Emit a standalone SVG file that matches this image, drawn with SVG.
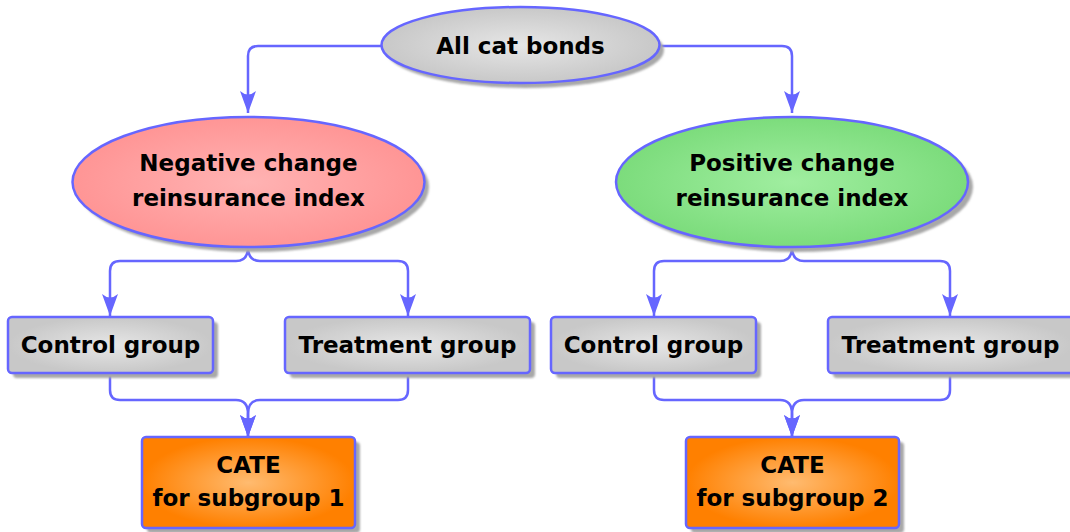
<svg xmlns="http://www.w3.org/2000/svg" width="1070" height="532" viewBox="0 0 1070 532">
<style>
.t{font-family:"DejaVu Sans","Liberation Sans",sans-serif;font-weight:bold;font-size:23px;fill:#000;text-anchor:middle}
.b{stroke:#6666ff;stroke-width:2.5;}
.sh{fill:#a8a8a8;filter:url(#bl)}
.c{fill:none;stroke:#6666ff;stroke-width:2.5;marker-end:url(#ar)}
</style>
<defs>
<filter id="bl" x="-10%" y="-10%" width="120%" height="120%"><feGaussianBlur stdDeviation="1"/></filter>
<radialGradient id="gg"><stop offset="0" stop-color="#e6e6e6"/><stop offset="1" stop-color="#c8c8c8"/></radialGradient>
<radialGradient id="gr"><stop offset="0" stop-color="#ffb3b3"/><stop offset="1" stop-color="#ff9595"/></radialGradient>
<radialGradient id="gn"><stop offset="0" stop-color="#a0eea0"/><stop offset="1" stop-color="#7cdc7c"/></radialGradient>
<radialGradient id="go"><stop offset="0" stop-color="#ffbb70"/><stop offset="1" stop-color="#ff8000"/></radialGradient>
<marker id="ar" markerWidth="24" markerHeight="18" refX="22" refY="9" orient="auto" markerUnits="userSpaceOnUse">
<path d="M22,9 L0,1 Q7,9 0,17 Z" fill="#6666ff"/>
</marker>
</defs>
<g id="connectors">
<path class="c" d="M382,46 L258,46 Q248,46 248,56 L248,113"/>
<path class="c" d="M659,46 L782,46 Q792,46 792,56 L792,113"/>
<path class="c" d="M248,247 C248,256 244,261 236,261 L120,261 Q110,261 110,271 L110,316"/>
<path class="c" d="M248,247 C248,256 252,261 260,261 L398,261 Q408,261 408,271 L408,316"/>
<path class="c" d="M792,247 C792,256 788,261 780,261 L664,261 Q654,261 654,271 L654,316"/>
<path class="c" d="M792,247 C792,256 796,261 804,261 L940,261 Q950,261 950,271 L950,316"/>
<path class="c" d="M110,373 L110,390 Q110,400 120,400 L236,400 C244,400 248,405 248,414 L248,437"/>
<path class="c" d="M408,373 L408,390 Q408,400 398,400 L260,400 C252,400 248,405 248,414 L248,437"/>
<path class="c" d="M654,373 L654,390 Q654,400 664,400 L780,400 C788,400 792,405 792,414 L792,437"/>
<path class="c" d="M950,373 L950,390 Q950,400 940,400 L804,400 C796,400 792,405 792,414 L792,437"/>
</g>
<g id="all">
<ellipse class="sh" cx="525" cy="50" rx="139" ry="38"/>
<ellipse class="b" cx="520.5" cy="45" rx="139" ry="38" fill="url(#gg)"/>
<text class="t" x="520.5" y="54">All cat bonds</text>
</g>
<g id="neg">
<ellipse class="sh" cx="253" cy="187" rx="176" ry="65"/>
<ellipse class="b" cx="248.5" cy="182" rx="176" ry="65" fill="url(#gr)"/>
<text class="t" x="248.5" y="171">Negative change</text>
<text class="t" x="248.5" y="206">reinsurance index</text>
</g>
<g id="pos">
<ellipse class="sh" cx="797" cy="187" rx="176" ry="65"/>
<ellipse class="b" cx="792" cy="182" rx="176" ry="65" fill="url(#gn)"/>
<text class="t" x="792" y="171">Positive change</text>
<text class="t" x="792" y="206">reinsurance index</text>
</g>
<g id="ctrl1">
<rect class="sh" x="13" y="322" width="205" height="56" rx="4"/>
<rect class="b" x="8" y="317" width="205" height="56" rx="4" fill="url(#gg)"/>
<text class="t" x="110.5" y="353">Control group</text>
</g>
<g id="treat1">
<rect class="sh" x="290" y="322" width="245" height="56" rx="4"/>
<rect class="b" x="285" y="317" width="245" height="56" rx="4" fill="url(#gg)"/>
<text class="t" x="407.5" y="353">Treatment group</text>
</g>
<g id="ctrl2">
<rect class="sh" x="556" y="322" width="205" height="56" rx="4"/>
<rect class="b" x="551" y="317" width="205" height="56" rx="4" fill="url(#gg)"/>
<text class="t" x="653.5" y="353">Control group</text>
</g>
<g id="treat2">
<rect class="sh" x="833" y="322" width="245" height="56" rx="4"/>
<rect class="b" x="828" y="317" width="245" height="56" rx="4" fill="url(#gg)"/>
<text class="t" x="950.5" y="353">Treatment group</text>
</g>
<g id="cate1">
<rect class="sh" x="147" y="442" width="213" height="91" rx="4"/>
<rect class="b" x="142" y="437" width="213" height="91" rx="4" fill="url(#go)"/>
<text class="t" x="248.5" y="473">CATE</text>
<text class="t" x="248.5" y="506">for subgroup 1</text>
</g>
<g id="cate2">
<rect class="sh" x="691" y="442" width="213" height="91" rx="4"/>
<rect class="b" x="686" y="437" width="213" height="91" rx="4" fill="url(#go)"/>
<text class="t" x="792.5" y="473">CATE</text>
<text class="t" x="792.5" y="506">for subgroup 2</text>
</g>
</svg>
